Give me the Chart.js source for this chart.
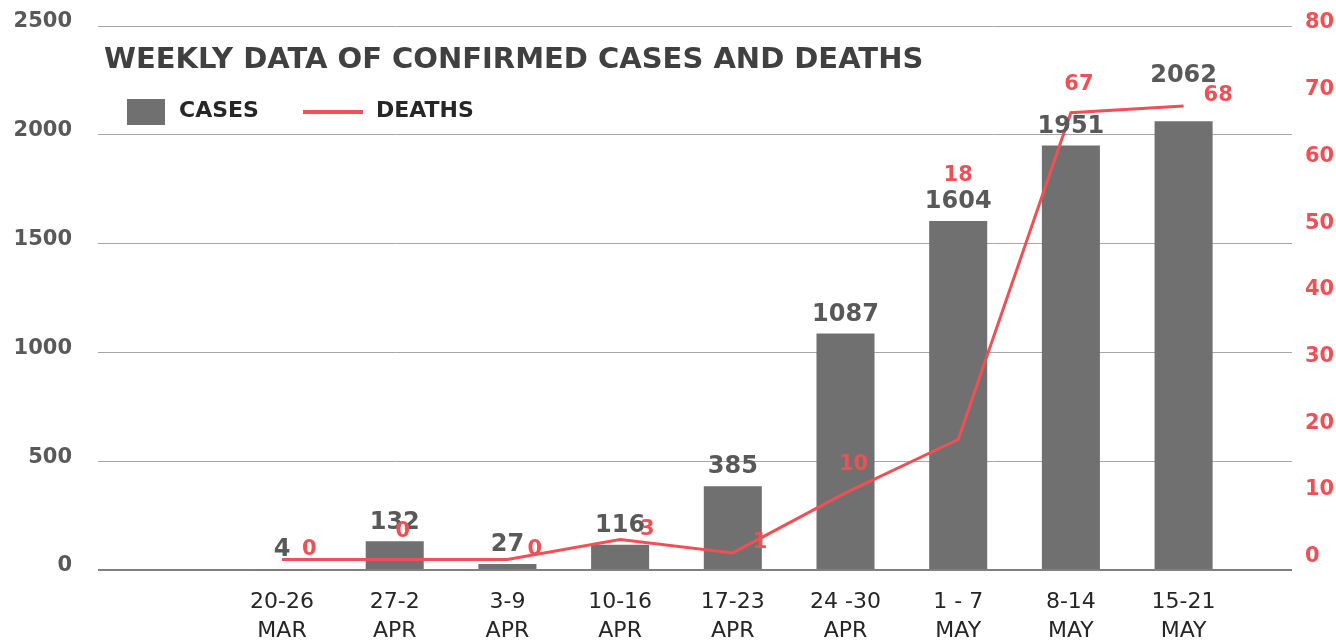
<!DOCTYPE html>
<html>
<head>
<meta charset="utf-8">
<title>Weekly data of confirmed cases and deaths</title>
<script src="https://cdn.jsdelivr.net/npm/chart.js@4.4.1/dist/chart.umd.min.js"></script>
<style>
  html, body { margin: 0; padding: 0; background: #fff; }
  #chart { display: block; }
</style>
</head>
<body>
<canvas id="chart" width="1336" height="642"></canvas>
<script>
// ---- data ----
const weeks = [
  ['20-26', 'MAR'], ['27-2', 'APR'], ['3-9', 'APR'], ['10-16', 'APR'], ['17-23', 'APR'],
  ['24 -30', 'APR'], ['1 - 7', 'MAY'], ['8-14', 'MAY'], ['15-21', 'MAY']
];
const cases = [4, 132, 27, 116, 385, 1087, 1604, 1951, 2062];
const deaths = [0, 0, 0, 3, 1, 10, 18, 67, 68];
const casesTicks = [0, 500, 1000, 1500, 2000, 2500];
const deathsTicks = [0, 10, 20, 30, 40, 50, 60, 70, 80];

// where each value label sits: cases above the bar (or above the line when they'd clash),
// deaths to the right of / above the point, or above the bar label
const caseLabelSpots = ['bar', 'bar', 'bar', 'bar', 'bar', 'bar', 'bar', 'bar', 'line'];
const deathLabelSpots = ['right', 'top', 'right', 'right', 'right', 'top', 'high', 'top', 'right'];

const GREY_BAR = '#707070';
const GREY_TEXT = '#595959';
const DARK_TEXT = '#262626';
const RED = '#EF5056';
const FONT = '"DejaVu Sans", sans-serif';

Chart.defaults.font.family = FONT;

/*---------------------------------------- title, legend, value labels ----------------------------------------*/
const titleLegend = {
  id: 'titleLegend',
  afterDraw(chart) {
    const ctx = chart.ctx;
    ctx.save();
    ctx.fillStyle = '#404040';
    ctx.font = 'bold 29px ' + FONT;
    ctx.textAlign = 'left';
    ctx.textBaseline = 'alphabetic';
    ctx.fillText('WEEKLY DATA OF CONFIRMED CASES AND DEATHS', 104, 68);

    const barSet = chart.data.datasets[1];
    const lineSet = chart.data.datasets[0];
    ctx.fillStyle = barSet.backgroundColor;
    ctx.fillRect(127, 99, 38, 26);
    ctx.strokeStyle = lineSet.borderColor;
    ctx.lineWidth = 4;
    ctx.beginPath();
    ctx.moveTo(303, 112);
    ctx.lineTo(363, 112);
    ctx.stroke();

    ctx.fillStyle = DARK_TEXT;
    ctx.font = 'bold 22px ' + FONT;
    ctx.textBaseline = 'middle';
    ctx.fillText(barSet.label, 179, 111);
    ctx.fillText(lineSet.label, 376, 111);
    ctx.restore();
  }
};

const valueLabels = {
  id: 'valueLabels',
  afterDatasetsDraw(chart) {
    const ctx = chart.ctx;
    const lineMeta = chart.getDatasetMeta(0);
    const barMeta = chart.getDatasetMeta(1);
    const caseY = barMeta.data.map((bar, i) =>
      caseLabelSpots[i] === 'line' ? lineMeta.data[i].y - 30 : bar.y - 19);
    ctx.save();
    ctx.textBaseline = 'middle';
    ctx.textAlign = 'center';
    ctx.font = 'bold 24px ' + FONT;
    ctx.fillStyle = GREY_TEXT;
    barMeta.data.forEach((bar, i) => {
      ctx.fillText(String(cases[i]), bar.x, caseY[i]);
    });

    ctx.font = 'bold 21px ' + FONT;
    ctx.fillStyle = RED;
    lineMeta.data.forEach((pt, i) => {
      const spot = deathLabelSpots[i];
      if (spot === 'right') {
        ctx.textAlign = 'left';
        ctx.fillText(String(deaths[i]), pt.x + 20, pt.y - 10);
      } else if (spot === 'top') {
        ctx.textAlign = 'center';
        ctx.fillText(String(deaths[i]), pt.x + 8, pt.y - 28);
      } else {
        ctx.textAlign = 'center';
        ctx.fillText(String(deaths[i]), pt.x, caseY[i] - 26);
      }
    });
    ctx.restore();
  }
};

// keep the vertical axes from pushing the plot area down
const noVerticalPadding = (axis) => {
  axis.paddingTop = 0;
  axis.paddingBottom = 0;
};

new Chart(document.getElementById('chart'), {
  type: 'bar',
  data: {
    datasets: [
      {
        type: 'line',
        label: 'DEATHS',
        data: deaths.map((v, i) => ({ x: i, y: v })),
        yAxisID: 'y1',
        borderColor: RED,
        borderWidth: 3,
        pointRadius: 0,
        tension: 0,
        order: 0
      },
      {
        type: 'bar',
        label: 'CASES',
        data: cases.map((v, i) => ({ x: i, y: v })),
        yAxisID: 'y',
        backgroundColor: GREY_BAR,
        barPercentage: 0.515,
        categoryPercentage: 1,
        order: 1
      }
    ]
  },
  options: {
    responsive: false,
    animation: false,
    devicePixelRatio: 1,
    layout: { padding: { top: 26, left: 0, right: 0, bottom: 0 } },
    plugins: {
      legend: { display: false },
      title: { display: false },
      tooltip: { enabled: false }
    },
    scales: {
      x: {
        type: 'linear',
        min: -1.633,
        max: 8.962,
        offset: false,
        grid: { display: false, offset: false },
        border: { display: false },
        afterBuildTicks: (axis) => { axis.ticks = weeks.map((w, i) => ({ value: i })); },
        afterFit: (axis) => { axis.height = 72; },
        ticks: {
          autoSkip: false,
          maxRotation: 0,
          padding: 10,
          color: DARK_TEXT,
          font: { size: 22, lineHeight: 1.32 },
          callback: (value, index) => weeks[index]
        }
      },
      y: {
        position: 'left',
        min: 0,
        max: 2500,
        afterBuildTicks: (axis) => { axis.ticks = casesTicks.map(v => ({ value: v })); },
        afterFit: (axis) => { axis.width = 98; noVerticalPadding(axis); },
        border: { display: false },
        grid: {
          drawTicks: false,
          color: (c) => c.tick && c.tick.value === 0 ? '#808080' : '#a6a6a6',
          lineWidth: (c) => c.tick && c.tick.value === 0 ? 2 : 1
        },
        ticks: {
          padding: 26,
          labelOffset: -4,
          color: GREY_TEXT,
          font: { size: 21, weight: 'bold' },
          callback: (value) => String(value)
        }
      },
      y1: {
        position: 'right',
        min: -1.56,
        max: 80,
        afterBuildTicks: (axis) => { axis.ticks = deathsTicks.map(v => ({ value: v })); },
        afterFit: (axis) => { axis.width = 44; noVerticalPadding(axis); },
        border: { display: false },
        grid: { display: false, drawTicks: false },
        ticks: {
          padding: 13,
          labelOffset: -3,
          color: RED,
          font: { size: 21, weight: 'bold' },
          callback: (value) => String(value)
        }
      }
    }
  },
  plugins: [titleLegend, valueLabels]
});
</script>
</body>
</html>
